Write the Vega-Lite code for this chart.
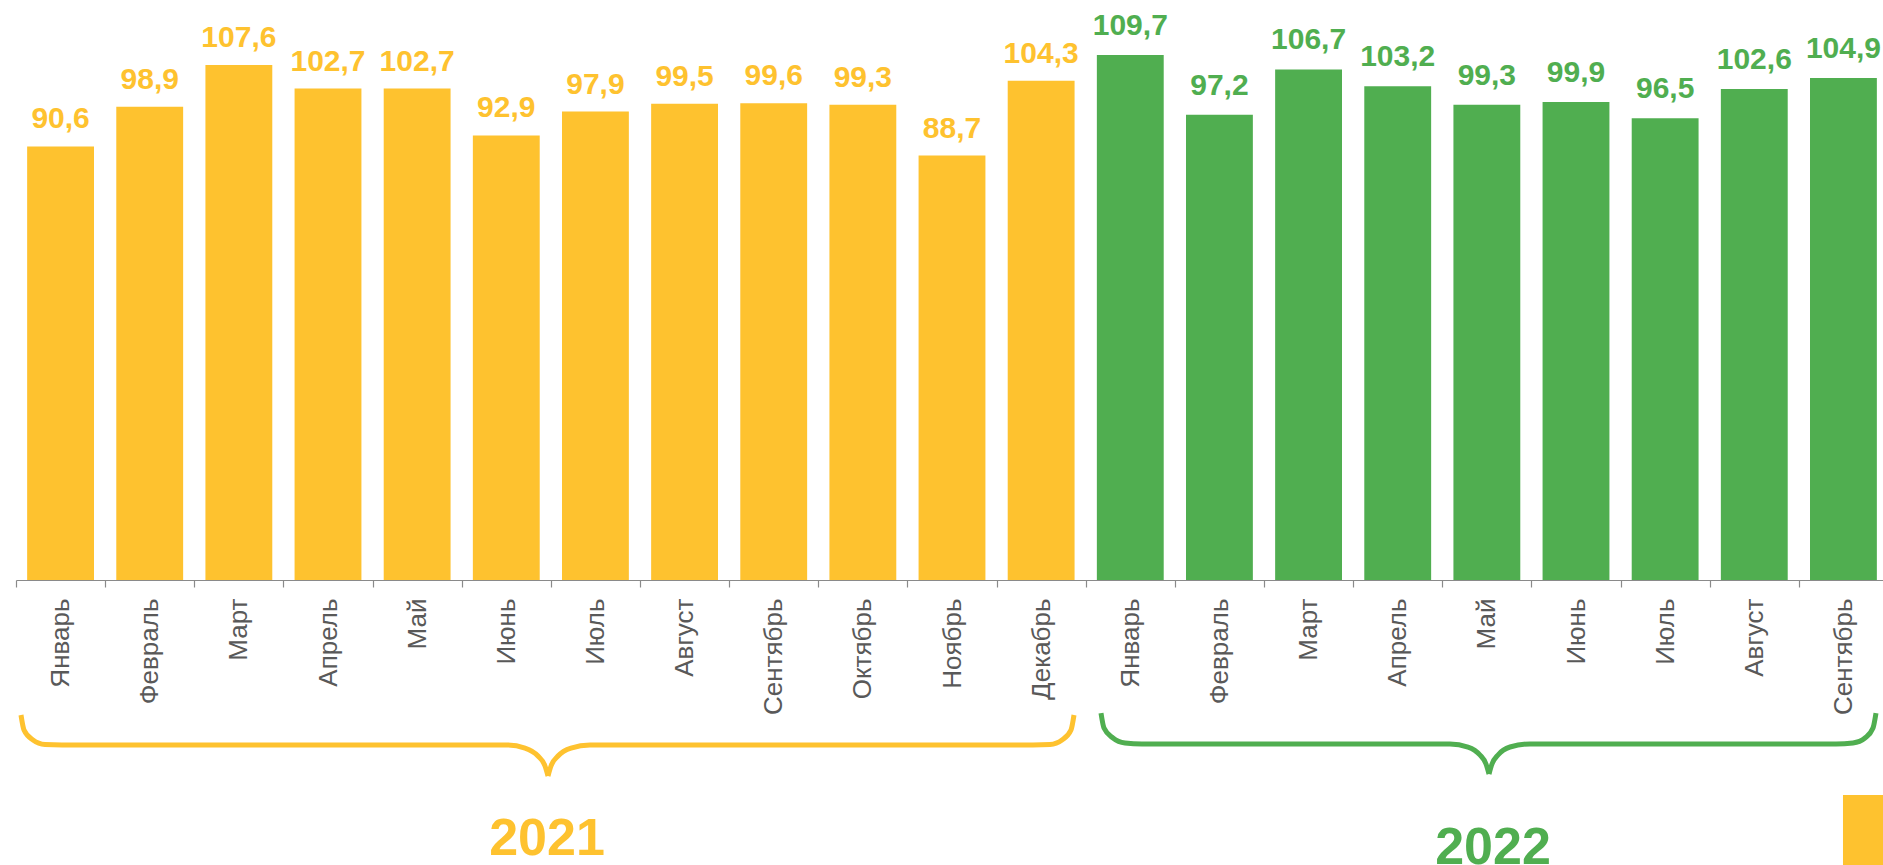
{
  "$schema": "https://vega.github.io/schema/vega-lite/v6.json",
  "autosize": {"type": "none"},
  "padding": {"left": 16, "top": 0, "right": -5, "bottom": 285},
  "width": 1872,
  "height": 580,
  "background": "white",
  "config": {
    "view": {"stroke": null},
    "font": "Liberation Sans",
    "locale": {"number": {"decimal": ",", "thousands": " ", "grouping": [3], "currency": ["", ""]}}
  },
  "datasets": {
    "bars": [
      {"period": "Январь 2021", "year": "2021", "value": 90.6},
      {"period": "Февраль 2021", "year": "2021", "value": 98.9},
      {"period": "Март 2021", "year": "2021", "value": 107.6},
      {"period": "Апрель 2021", "year": "2021", "value": 102.7},
      {"period": "Май 2021", "year": "2021", "value": 102.7},
      {"period": "Июнь 2021", "year": "2021", "value": 92.9},
      {"period": "Июль 2021", "year": "2021", "value": 97.9},
      {"period": "Август 2021", "year": "2021", "value": 99.5},
      {"period": "Сентябрь 2021", "year": "2021", "value": 99.6},
      {"period": "Октябрь 2021", "year": "2021", "value": 99.3},
      {"period": "Ноябрь 2021", "year": "2021", "value": 88.7},
      {"period": "Декабрь 2021", "year": "2021", "value": 104.3},
      {"period": "Январь 2022", "year": "2022", "value": 109.7},
      {"period": "Февраль 2022", "year": "2022", "value": 97.2},
      {"period": "Март 2022", "year": "2022", "value": 106.7},
      {"period": "Апрель 2022", "year": "2022", "value": 103.2},
      {"period": "Май 2022", "year": "2022", "value": 99.3},
      {"period": "Июнь 2022", "year": "2022", "value": 99.9},
      {"period": "Июль 2022", "year": "2022", "value": 96.5},
      {"period": "Август 2022", "year": "2022", "value": 102.6},
      {"period": "Сентябрь 2022", "year": "2022", "value": 104.9}
    ],
    "braces": [
      {"year": "2021", "part": "2021a", "u": 0.0561, "v": -28.21},
      {"year": "2021", "part": "2021a", "u": 0.0897, "v": -31.35},
      {"year": "2021", "part": "2021a", "u": 0.1907, "v": -33.44},
      {"year": "2021", "part": "2021a", "u": 0.3253, "v": -34.38},
      {"year": "2021", "part": "2021a", "u": 0.516, "v": -34.48},
      {"year": "2021", "part": "2021a", "u": 5.508, "v": -34.48},
      {"year": "2021", "part": "2021a", "u": 5.7099, "v": -35.11},
      {"year": "2021", "part": "2021a", "u": 5.8558, "v": -36.78},
      {"year": "2021", "part": "2021a", "u": 5.9343, "v": -38.87},
      {"year": "2021", "part": "2021a", "u": 5.9679, "v": -40.96},
      {"year": "2021", "part": "2021b", "u": 5.9679, "v": -40.96},
      {"year": "2021", "part": "2021b", "u": 6.0016, "v": -38.87},
      {"year": "2021", "part": "2021b", "u": 6.0801, "v": -36.78},
      {"year": "2021", "part": "2021b", "u": 6.226, "v": -35.11},
      {"year": "2021", "part": "2021b", "u": 6.4391, "v": -34.48},
      {"year": "2021", "part": "2021b", "u": 11.4086, "v": -34.48},
      {"year": "2021", "part": "2021b", "u": 11.5993, "v": -34.38},
      {"year": "2021", "part": "2021b", "u": 11.7339, "v": -33.44},
      {"year": "2021", "part": "2021b", "u": 11.8349, "v": -31.35},
      {"year": "2021", "part": "2021b", "u": 11.8686, "v": -28.21},
      {"year": "2022", "part": "2022a", "u": 12.1715, "v": -27.8},
      {"year": "2022", "part": "2022a", "u": 12.2051, "v": -30.93},
      {"year": "2022", "part": "2022a", "u": 12.3061, "v": -33.02},
      {"year": "2022", "part": "2022a", "u": 12.4407, "v": -34.06},
      {"year": "2022", "part": "2022a", "u": 12.6314, "v": -34.27},
      {"year": "2022", "part": "2022a", "u": 16.0865, "v": -34.27},
      {"year": "2022", "part": "2022a", "u": 16.2884, "v": -34.9},
      {"year": "2022", "part": "2022a", "u": 16.423, "v": -36.57},
      {"year": "2022", "part": "2022a", "u": 16.4903, "v": -38.45},
      {"year": "2022", "part": "2022a", "u": 16.524, "v": -40.54},
      {"year": "2022", "part": "2022b", "u": 16.524, "v": -40.54},
      {"year": "2022", "part": "2022b", "u": 16.5577, "v": -38.45},
      {"year": "2022", "part": "2022b", "u": 16.625, "v": -36.57},
      {"year": "2022", "part": "2022b", "u": 16.7596, "v": -34.9},
      {"year": "2022", "part": "2022b", "u": 16.984, "v": -34.27},
      {"year": "2022", "part": "2022b", "u": 20.4166, "v": -34.27},
      {"year": "2022", "part": "2022b", "u": 20.6073, "v": -34.06},
      {"year": "2022", "part": "2022b", "u": 20.7419, "v": -33.02},
      {"year": "2022", "part": "2022b", "u": 20.8317, "v": -30.93},
      {"year": "2022", "part": "2022b", "u": 20.8653, "v": -27.8}
    ],
    "years": [
      {"year": "2021", "u": 5.957, "v": -57.47},
      {"year": "2022", "u": 16.569, "v": -59.35}
    ],
    "badge": [
      {"year": "2021", "u1": 20.495, "u2": 21.3, "v1": -44.93, "v2": -62}
    ]
  },
  "layer": [
    {
      "data": {"name": "bars"},
      "encoding": {
        "x": {
          "field": "period", "type": "nominal", "sort": null,
          "scale": {"paddingInner": 0, "paddingOuter": 0},
          "axis": {
            "title": null,
            "tickBand": "extent",
            "labelAngle": -90,
            "labelExpr": "split(datum.label, ' ')[0]",
            "labelFont": "Liberation Sans",
            "labelFontSize": 26,
            "labelColor": "#595959",
            "labelPadding": 11,
            "tickSize": 7,
            "tickColor": "#8a8a8a",
            "domainColor": "#8a8a8a",
            "domainWidth": 1.2,
            "tickWidth": 1.2,
            "grid": false
          }
        },
        "y": {"field": "value", "type": "quantitative", "scale": {"domain": [0, 121.2], "nice": false, "zero": true}, "axis": null},
        "color": {"field": "year", "type": "nominal", "scale": {"domain": ["2021", "2022"], "range": ["#FEC22F", "#50AE50"]}, "legend": null}
      },
      "layer": [
        {"mark": {"type": "bar", "width": {"band": 0.75}}},
        {
          "transform": [{"filter": "datum.year == '2021'"}],
          "mark": {"type": "text", "fontWeight": "bold", "fontSize": 30, "font": "Liberation Sans", "baseline": "alphabetic", "dy": -18},
          "encoding": {"text": {"field": "value", "type": "quantitative", "format": ".1f"}}
        },
        {
          "transform": [{"filter": "datum.year == '2022'"}],
          "mark": {"type": "text", "fontWeight": "bold", "fontSize": 30, "font": "Liberation Sans", "baseline": "alphabetic", "dy": -20},
          "encoding": {"text": {"field": "value", "type": "quantitative", "format": ".1f"}}
        }
      ]
    },
    {
      "layer": [
        {
          "data": {"name": "braces"},
          "mark": {"type": "line", "strokeWidth": 5, "interpolate": "monotone", "strokeCap": "butt"},
          "encoding": {
            "x": {"field": "u", "type": "quantitative", "scale": {"domain": [0, 21], "nice": false, "zero": false}, "axis": null},
            "y": {"field": "v", "type": "quantitative", "scale": {"domain": [0, 121.2], "nice": false}},
            "detail": {"field": "part"},
            "color": {"field": "year", "type": "nominal", "legend": null}
          }
        },
        {
          "data": {"name": "years"},
          "mark": {"type": "text", "fontWeight": "bold", "fontSize": 52, "font": "Liberation Sans", "baseline": "alphabetic", "align": "center"},
          "encoding": {
            "x": {"field": "u", "type": "quantitative", "scale": {"domain": [0, 21], "nice": false, "zero": false}, "axis": null},
            "y": {"field": "v", "type": "quantitative", "scale": {"domain": [0, 121.2], "nice": false}},
            "text": {"field": "year"},
            "color": {"field": "year", "type": "nominal", "legend": null}
          }
        },
        {
          "data": {"name": "badge"},
          "mark": {"type": "rect"},
          "encoding": {
            "x": {"field": "u1", "type": "quantitative", "scale": {"domain": [0, 21], "nice": false, "zero": false}, "axis": null},
            "x2": {"field": "u2"},
            "y": {"field": "v1", "type": "quantitative", "scale": {"domain": [0, 121.2], "nice": false}},
            "y2": {"field": "v2"},
            "color": {"field": "year", "type": "nominal", "legend": null}
          }
        }
      ]
    }
  ],
  "resolve": {"scale": {"x": "independent"}}
}
